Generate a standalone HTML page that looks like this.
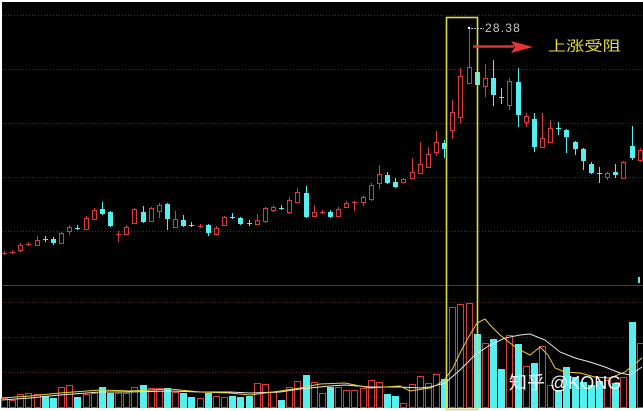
<!DOCTYPE html>
<html><head><meta charset="utf-8"><style>
html,body{margin:0;padding:0;background:#fff;}
svg{display:block;}
</style></head><body>
<svg width="643" height="411" viewBox="0 0 643 411" xmlns="http://www.w3.org/2000/svg">
<rect x="0" y="0" width="643" height="411" fill="#ffffff"/>
<rect x="2" y="2" width="641" height="406" fill="#000"/>
<path stroke="#6a2222" stroke-width="1" stroke-dasharray="1,2" d="M2 15.5H643M2 69.5H643M2 123.5H643M2 177.5H643M2 231.5H643M2 302.5H643M2 337.5H643M2 372.5H643"/>
<rect x="2" y="285" width="641" height="1" fill="#8c2424"/>
<path fill="none" stroke="#d83c3c" stroke-width="1" d="M4.5 251V255M12.5 250V254M20.5 243V252M28.5 242V246M37.5 236V246M61.5 232V244M69.5 225V235M86.5 216V230M94.5 208V220M118.5 231V242M126.5 225V235M134.5 208V224M151.5 207V222M159.5 203V218M175.5 211V228M200.5 224V228M216.5 226V235M224.5 216V226M257.5 214V225M265.5 207V223M273.5 205V212M289.5 197V214M297.5 188V203M314.5 205V217M322.5 210V214M338.5 207V217M346.5 201V208M354.5 201V211M363.5 196V206M371.5 183V201M379.5 165V189M403.5 178V183M412.5 158V179M420.5 142V174M428.5 147V168M436.5 131V156M452.5 100V139M460.5 68V123M469.5 28V84M485.5 64V97M509.5 78V110M526.5 113V127M542.5 113V148M550.5 120V143M607.5 172V180M623.5 161V179M640.5 148V162"/>
<path fill="#000" stroke="#d83c3c" stroke-width="1" d="M18.5 245.5h4v5h-4zM35.5 240.5h4v5h-4zM59.5 233.5h4v10h-4zM67.5 227.5h4v4h-4zM84.5 218.5h4v11h-4zM92.5 210.5h4v9h-4zM124.5 227.5h4v7h-4zM132.5 209.5h4v14h-4zM149.5 208.5h4v13h-4zM157.5 205.5h4v6h-4zM173.5 219.5h4v8h-4zM214.5 228.5h4v6h-4zM222.5 217.5h4v8h-4zM255.5 220.5h4v4h-4zM263.5 208.5h4v13h-4zM271.5 207.5h4v3h-4zM287.5 200.5h4v12h-4zM295.5 192.5h4v10h-4zM312.5 212.5h4v4h-4zM336.5 209.5h4v7h-4zM344.5 203.5h4v4h-4zM361.5 197.5h4v5h-4zM369.5 185.5h4v14h-4zM377.5 174.5h4v9h-4zM401.5 179.5h4v3h-4zM410.5 172.5h4v6h-4zM418.5 164.5h4v9h-4zM426.5 154.5h4v13h-4zM434.5 142.5h4v10h-4zM450.5 112.5h4v18h-4zM458.5 76.5h4v41h-4zM467.5 67.5h4v16h-4zM483.5 78.5h4v8h-4zM507.5 81.5h4v24h-4zM524.5 116.5h4v6h-4zM540.5 138.5h4v9h-4zM548.5 128.5h4v14h-4zM605.5 173.5h4v4h-4zM621.5 162.5h4v16h-4zM638.5 150.5h4v10h-4z"/>
<path fill="#d83c3c" d="M2 253h5v1h-5zM10 252h5v1h-5zM26 244h5v1h-5zM116 234h5v1h-5zM198 226h5v1h-5zM320 212h5v1h-5zM352 202h5v1h-5z"/>
<path fill="none" stroke="#54f0f0" stroke-width="1" d="M45.5 236V242M53.5 237V245M77.5 225V230M102.5 202V215M110.5 211V227M143.5 206V223M167.5 203V230M183.5 215V227M191.5 222V227M208.5 224V236M232.5 213V219M240.5 217V225M249.5 220V226M281.5 205V210M306.5 186V218M330.5 210V218M387.5 172V184M395.5 178V188M444.5 140V158M477.5 60V95M493.5 60V106M501.5 88V104M518.5 68V127M534.5 113V152M558.5 122V135M566.5 129V153M575.5 141V155M583.5 148V170M591.5 162V174M599.5 167V183M615.5 164V178M632.5 126V160"/>
<path fill="#54f0f0" d="M51 239h5v4h-5zM100 209h5v5h-5zM108 212h5v14h-5zM141 212h5v10h-5zM165 204h5v15h-5zM181 220h5v6h-5zM206 225h5v8h-5zM238 218h5v6h-5zM304 193h5v24h-5zM328 212h5v5h-5zM385 175h5v8h-5zM393 182h5v5h-5zM442 143h5v6h-5zM475 72h5v13h-5zM491 78h5v17h-5zM516 82h5v33h-5zM532 119h5v28h-5zM564 130h5v7h-5zM573 142h5v7h-5zM581 149h5v12h-5zM589 164h5v9h-5zM613 172h5v3h-5zM630 146h5v12h-5zM43 239h5v1h-5zM75 228h5v1h-5zM189 225h5v1h-5zM230 217h5v1h-5zM247 223h5v1h-5zM279 208h5v1h-5zM499 97h5v1h-5zM556 128h5v1h-5zM597 173h5v1h-5zM638 277h2v6h-2z"/>
<path fill="#000" stroke="#d83c3c" stroke-width="1" d="M1.5 398.5h6v9h-6zM9.5 400.5h6v7h-6zM17.5 394.5h6v13h-6zM25.5 393.5h6v14h-6zM34.5 394.5h6v13h-6zM58.5 387.5h6v20h-6zM66.5 385.5h6v22h-6zM83.5 394.5h6v13h-6zM91.5 393.5h6v14h-6zM115.5 393.5h6v14h-6zM123.5 393.5h6v14h-6zM131.5 387.5h6v20h-6zM148.5 388.5h6v19h-6zM156.5 388.5h6v19h-6zM172.5 392.5h6v15h-6zM197.5 398.5h6v9h-6zM213.5 396.5h6v11h-6zM221.5 397.5h6v10h-6zM254.5 383.5h6v24h-6zM262.5 384.5h6v23h-6zM270.5 392.5h6v15h-6zM286.5 387.5h6v20h-6zM294.5 381.5h6v26h-6zM311.5 382.5h6v25h-6zM319.5 393.5h6v14h-6zM335.5 387.5h6v20h-6zM343.5 390.5h6v17h-6zM351.5 390.5h6v17h-6zM360.5 388.5h6v19h-6zM368.5 380.5h6v27h-6zM376.5 382.5h6v25h-6zM400.5 403.5h6v4h-6zM409.5 384.5h6v23h-6zM417.5 376.5h6v31h-6zM425.5 383.5h6v24h-6zM433.5 374.5h6v33h-6zM449.5 307.5h6v100h-6zM457.5 304.5h6v103h-6zM466.5 303.5h6v104h-6zM482.5 343.5h6v64h-6zM506.5 335.5h6v72h-6zM523.5 366.5h6v41h-6zM539.5 346.5h6v61h-6zM547.5 385.5h6v22h-6zM604.5 380.5h6v27h-6zM620.5 377.5h6v30h-6zM637.5 343.5h6v64h-6z"/>
<path fill="#54f0f0" d="M42 396h7v12h-7zM50 398h7v10h-7zM74 397h7v11h-7zM99 387h7v21h-7zM107 393h7v15h-7zM140 385h7v23h-7zM164 388h7v20h-7zM180 393h7v15h-7zM188 397h7v11h-7zM205 393h7v15h-7zM229 396h7v12h-7zM237 397h7v11h-7zM246 396h7v12h-7zM278 400h7v8h-7zM303 375h7v33h-7zM327 387h7v21h-7zM384 394h7v14h-7zM392 396h7v12h-7zM441 379h7v29h-7zM474 334h7v74h-7zM490 339h7v69h-7zM498 369h7v39h-7zM515 344h7v64h-7zM531 363h7v45h-7zM555 390h7v18h-7zM563 367h7v41h-7zM572 377h7v31h-7zM580 382h7v26h-7zM588 385h7v23h-7zM596 381h7v27h-7zM612 383h7v25h-7zM629 322h7v86h-7z"/>
<polyline fill="none" stroke="#e8e8e8" stroke-width="1" points="2,400 30,398 60,395 100,392 130,392 170,391 200,392 230,392 250,393 280,392 300,389 330,386 345,385 370,387 400,387 420,388 430,387 445,383 460,370 475,355 490,345 505,338 520,335 530,334 545,340 560,352 575,358 590,362 605,367 620,373 630,375 642,367"/>
<polyline fill="none" stroke="#e8d030" stroke-width="1" points="2,398 30,396 60,393 100,390 130,391 170,389 200,392 230,393 250,395 280,391 300,388 320,384 345,383 370,388 400,386 410,391 430,388 437,385 445,379 453,368 460,353 468,338 477,323 485,319 490,325 500,335 510,343 520,350 530,355 540,347 548,355 555,368 565,372 580,373 595,377 610,378 625,372 642,358"/>
<rect x="446.5" y="17.5" width="31" height="392" fill="none" stroke="#dcdc48" stroke-width="1.6"/>
<rect x="468" y="27" width="2" height="2" fill="#fff"/>
<path d="M471 28.5H484" stroke="#bbb" stroke-width="1" stroke-dasharray="2,1"/>
<text x="485" y="32" font-family="Liberation Sans, sans-serif" font-size="12" letter-spacing="1.2" fill="#c8c8c8">28.38</text>
<path d="M473 46.5H514" stroke="#e03434" stroke-width="2.5"/>
<polygon points="511,41 533,47 511,53 515,47" fill="#e83434"/>
<text transform="translate(548,51) scale(1.3,1)" font-family="Liberation Sans, Noto Sans CJK SC, sans-serif" font-size="14" fill="#e6dc3c">上涨受阻</text>
<text x="509" y="389" font-family="Liberation Sans, Noto Sans CJK SC, sans-serif" font-size="18" fill="#ffffff" fill-opacity="0.95">知乎 @KONG</text>
</svg>
</body></html>
